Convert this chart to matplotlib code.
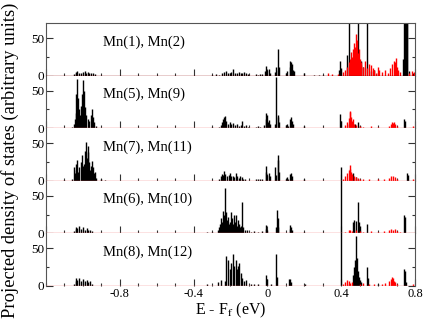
import matplotlib
matplotlib.use("Agg")
import matplotlib.pyplot as plt
from matplotlib.ticker import MultipleLocator

plt.rcParams['font.family'] = ['Liberation Serif', 'DejaVu Serif']
plt.rcParams['mathtext.fontset'] = 'stix'
plt.rcParams['axes.unicode_minus'] = False

labels = ["Mn(1), Mn(2)", "Mn(5), Mn(9)", "Mn(7), Mn(11)", "Mn(6), Mn(10)", "Mn(8), Mn(12)"]

# panel 1: Mn(1), Mn(2)
p1_black_e = [-1.05, -1.04, -1.035, -1.03, -1.02, -1.01, -1.0, -0.99, -0.985, -0.975, -0.965, -0.955, -0.945, -0.935,
              -0.30, -0.28, -0.26, -0.245, -0.235, -0.225, -0.215, -0.205, -0.195, -0.185, -0.175, -0.165, -0.155,
              -0.145, -0.135, -0.125, -0.115, -0.105, -0.06, -0.05, -0.04, -0.03, -0.015, -0.005, 0.0, 0.01, 0.015,
              0.04, 0.045, 0.055, 0.06, 0.065, 0.10, 0.105, 0.12, 0.125, 0.13, 0.135, 0.14, 0.145, 0.20, 0.25, 0.28,
              0.30, 0.39, 0.395, 0.40, 0.43, 0.44, 0.45, 0.49, 0.50, 0.51, 0.52, 0.54, 0.56, 0.58, 0.60, 0.735,
              0.74, 0.745, 0.75, 0.755, 0.758, 0.77, 0.79]
p1_black_h = [2, 3, 5, 6, 4, 3, 5, 6, 4, 5, 3, 4, 3, 2,
              1, 2, 1, 3, 5, 6, 4, 3, 5, 9, 4, 3, 5,
              4, 3, 5, 3, 2, 2, 1, 2, 2, 6, 13, 8, 9, 4,
              5, 11, 8, 35, 12, 4, 6, 12, 20, 18, 15, 8, 6, 3, 1, 1,
              1, 8, 20, 10, 27, 80, 10, 80, 15, 20, 11, 80, 6, 8, 4, 22,
              80, 80, 80, 80, 80, 6, 4]
p1_red_e = [0.33, 0.35, 0.38, 0.41, 0.42, 0.43, 0.44, 0.45, 0.455, 0.46, 0.465, 0.47, 0.475, 0.48, 0.485, 0.49,
            0.495, 0.50, 0.505, 0.51, 0.52, 0.53, 0.54, 0.55, 0.56, 0.57, 0.58, 0.59, 0.60, 0.605, 0.62, 0.64,
            0.655, 0.665, 0.675, 0.685, 0.69, 0.695, 0.70, 0.71, 0.72, 0.77, 0.785, 0.795]
p1_red_h = [3, 2, 2, 5, 8, 12, 18, 22, 31, 25, 35, 43, 38, 55, 48, 30,
            35, 22, 18, 14, 12, 20, 10, 16, 14, 10, 8, 4, 11, 7, 5, 7,
            4, 10, 16, 20, 18, 24, 12, 8, 5, 3, 6, 5]

# panel 2: Mn(5), Mn(9)
p2_black_e = [-1.06, -1.05, -1.045, -1.04, -1.035, -1.03, -1.025, -1.02, -1.015, -1.01, -1.005, -1.0, -0.995,
              -0.99, -0.985, -0.975, -0.965, -0.955, -0.95, -0.945, -0.94, -0.93,
              -0.30, -0.26, -0.25, -0.245, -0.24, -0.235, -0.23, -0.225, -0.215, -0.205, -0.195, -0.185, -0.175,
              -0.165, -0.155, -0.145, -0.135, -0.125, -0.115, -0.105, -0.06, -0.05, -0.04, -0.02, -0.01, -0.005,
              0.0, 0.005, 0.01, 0.015, 0.04, 0.049, 0.055, 0.06, 0.065, 0.10, 0.105, 0.11, 0.125, 0.13, 0.135,
              0.14, 0.20, 0.395, 0.40, 0.44, 0.46, 0.475, 0.49, 0.50, 0.74, 0.745]
p2_black_h = [2, 6, 12, 20, 45, 66, 40, 25, 18, 30, 45, 64, 50,
              28, 18, 12, 10, 18, 25, 15, 8, 3,
              1, 2, 4, 8, 12, 15, 16, 10, 6, 8, 5, 7, 4,
              6, 3, 4, 9, 3, 4, 2, 2, 3, 2, 4, 12, 20,
              18, 8, 11, 6, 6, 68, 18, 15, 8, 4, 6, 3, 12, 15, 10,
              5, 3, 19, 10, 5, 8, 5, 8, 3, 12, 9]
p2_red_e = [0.42, 0.43, 0.44, 0.445, 0.45, 0.455, 0.46, 0.465, 0.47, 0.48, 0.50, 0.52, 0.56, 0.60, 0.66, 0.67,
            0.675, 0.68, 0.685, 0.69, 0.70, 0.79]
p2_red_h = [4, 8, 14, 21, 23, 15, 10, 12, 6, 4, 3, 2, 3, 2, 3, 6,
            8, 7, 8, 5, 3, 3]

# panel 3: Mn(7), Mn(11)
p3_black_e = [-1.10, -1.06, -1.05, -1.045, -1.04, -1.035, -1.03, -1.025, -1.02, -1.01, -1.005, -1.0, -0.995,
              -0.99, -0.985, -0.98, -0.975, -0.97, -0.965, -0.96, -0.955, -0.95, -0.945, -0.94, -0.935, -0.93,
              -0.90, -0.88,
              -0.26, -0.25, -0.245, -0.24, -0.235, -0.23, -0.22, -0.21, -0.205, -0.195, -0.185, -0.18, -0.17,
              -0.165, -0.155, -0.15, -0.14, -0.13, -0.12, -0.06, -0.05, -0.04, -0.03, -0.01, -0.005, 0.0, 0.01,
              0.015, 0.04, 0.045, 0.055, 0.06, 0.065, 0.10, 0.105, 0.11, 0.125, 0.13, 0.135, 0.20,
              0.398, 0.455, 0.465, 0.48, 0.49, 0.755, 0.76]
p3_black_h = [1, 3, 19, 10, 15, 22, 28, 12, 18, 25, 35, 20, 23,
              40, 52, 30, 38, 46, 25, 15, 20, 27, 18, 10, 12, 4,
              2, 1,
              2, 6, 9, 8, 13, 9, 6, 8, 10, 6, 7, 5, 11,
              6, 4, 7, 5, 3, 2, 2, 3, 2, 2, 12, 20, 8, 11,
              7, 18, 8, 35, 28, 12, 3, 5, 3, 9, 11, 7, 2,
              18, 8, 11, 5, 3, 11, 8]
p3_red_e = [0.41, 0.42, 0.43, 0.44, 0.445, 0.45, 0.455, 0.46, 0.47, 0.48, 0.49, 0.50, 0.52, 0.55, 0.60, 0.63,
            0.66, 0.67, 0.68, 0.69, 0.70, 0.79]
p3_red_h = [3, 6, 10, 15, 21, 16, 12, 9, 6, 5, 4, 3, 3, 2, 3, 2,
            4, 6, 7, 5, 3, 2]

# panel 4: Mn(6), Mn(10)
p4_black_e = [-1.05, -1.04, -1.035, -1.03, -1.02, -1.01, -1.0, -0.99, -0.98, -0.97, -0.96, -0.95,
              -0.33, -0.30, -0.27, -0.26, -0.255, -0.25, -0.245, -0.24, -0.235, -0.23, -0.225, -0.22, -0.215,
              -0.21, -0.205, -0.20, -0.195, -0.19, -0.185, -0.18, -0.175, -0.17, -0.165, -0.16, -0.155, -0.15,
              -0.145, -0.14, -0.135, -0.13, -0.12, -0.11, -0.09, -0.07, -0.05, -0.03, -0.01, -0.005, 0.0,
              0.045, 0.05, 0.055, 0.06, 0.12, 0.125, 0.13, 0.135, 0.20,
              0.40, 0.465, 0.47, 0.48, 0.49, 0.495, 0.50, 0.54, 0.74, 0.745]
p4_black_h = [3, 6, 9, 7, 10, 6, 8, 5, 7, 4, 5, 3,
              2, 2, 4, 8, 12, 20, 15, 30, 25, 61, 28, 18, 22,
              12, 15, 10, 28, 20, 12, 24, 15, 24, 10, 18, 12, 8,
              10, 6, 42, 8, 5, 4, 2, 3, 2, 3, 6, 11, 5,
              9, 31, 20, 9, 6, 11, 9, 5, 2,
              80, 15, 18, 16, 42, 15, 10, 12, 24, 22]
p4_red_e = [0.42, 0.44, 0.45, 0.46, 0.48, 0.50, 0.52, 0.56, 0.60, 0.63, 0.66, 0.67, 0.68, 0.69, 0.70, 0.72]
p4_red_h = [2, 4, 5, 3, 4, 3, 2, 3, 2, 3, 4, 6, 5, 6, 3, 2]

# panel 5: Mn(8), Mn(12)
p5_black_e = [-1.05, -1.04, -1.035, -1.03, -1.02, -1.01, -1.0, -0.99, -0.98, -0.97, -0.96, -0.95,
              -0.33, -0.27, -0.25, -0.23, -0.223, -0.214, -0.205, -0.196, -0.188, -0.18, -0.17, -0.165, -0.16,
              -0.153, -0.145, -0.138, -0.126, -0.118, -0.09, -0.07, -0.05, -0.007, -0.002, 0.02, 0.047, 0.052,
              0.119, 0.124, 0.128, 0.205,
              0.398, 0.44, 0.465, 0.47, 0.475, 0.48, 0.485, 0.49, 0.495, 0.50, 0.51, 0.54, 0.545, 0.60, 0.74,
              0.745, 0.75]
p5_black_h = [3, 7, 10, 8, 11, 7, 9, 6, 8, 5, 6, 3,
              2, 5, 8, 6, 40, 34, 22, 30, 43, 26, 34, 22, 26,
              30, 17, 11, 6, 8, 2, 3, 2, 14, 9, 3, 43, 12,
              9, 9, 5, 2,
              80, 3, 15, 25, 35, 66, 37, 20, 12, 8, 5, 25, 10, 2, 23,
              20, 5]
p5_red_e = [0.41, 0.42, 0.43, 0.44, 0.45, 0.46, 0.50, 0.52, 0.55, 0.58, 0.62, 0.64, 0.66, 0.67, 0.675, 0.68,
            0.685, 0.69, 0.70, 0.79]
p5_red_h = [3, 5, 8, 6, 4, 5, 3, 4, 3, 2, 3, 4, 6, 9, 12, 10,
            7, 5, 3, 2]

panels = [
    (p1_black_e, p1_black_h, p1_red_e, p1_red_h),
    (p2_black_e, p2_black_h, p2_red_e, p2_red_h),
    (p3_black_e, p3_black_h, p3_red_e, p3_red_h),
    (p4_black_e, p4_black_h, p4_red_e, p4_red_h),
    (p5_black_e, p5_black_h, p5_red_e, p5_red_h),
]

fig = plt.figure(figsize=(4.25, 3.27), dpi=100)
left, right = 46 / 425, 415 / 425
top, bottom = 1 - 23 / 327, 1 - 286 / 327
ph = (top - bottom) / 5

for i, (be, bh, re, rh) in enumerate(panels):
    ax = fig.add_axes([left, top - (i + 1) * ph, right - left, ph])
    ax.vlines(be, 0, bh, color='black', lw=1.0)
    ax.vlines(re, 0, rh, color='red', lw=1.0)
    zcol = '#8b0000' if i == 0 else '#f07070'
    ax.axhline(0, color=zcol, lw=1.0, zorder=3)
    ax.set_xlim(-1.2, 0.8)
    ax.set_ylim(0, 70)
    ax.set_yticks([0, 50])
    ax.yaxis.set_minor_locator(MultipleLocator(25))
    ax.xaxis.set_major_locator(MultipleLocator(0.4))
    ax.xaxis.set_minor_locator(MultipleLocator(0.1))
    ax.tick_params(which='both', direction='in', right=True, top=False, colors='#333333',
                   labelcolor='black', labelsize=9.5, width=0.8)
    ax.tick_params(which='major', length=5)
    ax.tick_params(which='minor', length=2.5)
    ax.tick_params(axis='y', pad=1.5)
    ax.tick_params(axis='x', pad=1.5, labelsize=9)
    for s in ax.spines.values():
        s.set_color('#555555')
        s.set_linewidth(0.8)
    ax.spines['bottom'].set_visible(False)
    if i > 0:
        ax.spines['top'].set_visible(False)
    if i < 4:
        ax.tick_params(labelbottom=False)
    else:
        ax.set_xticks([-0.8, -0.4, 0, 0.4, 0.8])
        ax.set_xticklabels(['-0.8', '-0.4', '0', '0.4', '0.8'])
    ax.text(-0.89, 45, labels[i], fontsize=10.5, va='center', ha='left')

fig.text(10 / 425, 0.51, "Projected density of states (arbitrary units)", rotation=90,
         ha='center', va='center', fontsize=13.3)
fig.text(231 / 425, 1 - 310 / 327, r"E - F$_\mathrm{f}$ (eV)", ha='center', va='center', fontsize=11.5)

fig.savefig('out.png', dpi=100)
